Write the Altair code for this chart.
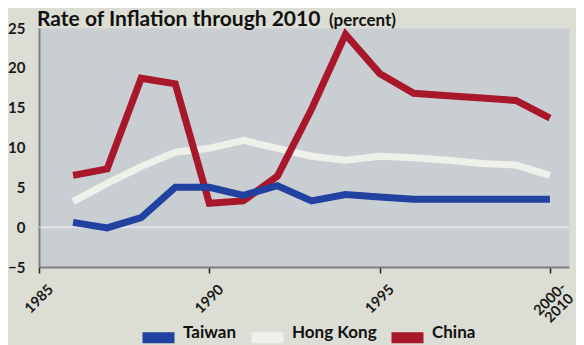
import altair as alt
import pandas as pd

years = list(range(1986, 2001))
taiwan = [0.6, -0.1, 1.2, 5.0, 5.0, 4.0, 5.2, 3.3, 4.1, 3.8, 3.5, 3.5, 3.5, 3.5, 3.5]
hong_kong = [3.2, 5.5, 7.6, 9.4, 9.9, 10.9, 9.9, 8.9, 8.4, 8.9, 8.7, 8.4, 8.0, 7.8, 6.5]
china = [6.5, 7.3, 18.7, 18.0, 3.0, 3.3, 6.4, 14.8, 24.2, 19.3, 16.8, 16.5, 16.2, 15.9, 13.7]
series = ["Taiwan", "Hong Kong", "China"]
colors = ["#2142a0", "#eef0ea", "#a8172a"]
x_ticks = [1985, 1990, 1995, 2000]
y_ticks = [-5, 0, 5, 10, 15, 20, 25]
title_main = "Rate of Inflation through 2010"
title_unit = "(percent)"

rows = []
for name, vals in zip(series, [taiwan, hong_kong, china]):
    for yr, v in zip(years, vals):
        rows.append({"year": yr, "rate": v, "country": name})
df = pd.DataFrame(rows)

FONT = "Lato"

x_enc = alt.X(
    "year:Q",
    scale=alt.Scale(domain=[1985, 2000.56], nice=False, zero=False),
    axis=alt.Axis(
        values=x_ticks, format="d",
        labelExpr="datum.value == 2000 ? ['2000-', '2010'] : datum.label",
        labelAngle=-45, labelAlign="center", labelBaseline="middle",
        labelPadding=26, labelFlush=False, labelOverlap=False,
        tickSize=6, tickColor="#222222", tickWidth=1.5,
        domainColor="#7d7f80", domainWidth=2, grid=False, title=None,
        labelFont=FONT, labelFontSize=14.5, labelFontWeight="bold",
        labelColor="#1a1a1a", labelLineHeight=13,
    ),
)
y_enc = alt.Y(
    "rate:Q",
    scale=alt.Scale(domain=[-5, 25], nice=False, zero=False),
    axis=alt.Axis(
        values=y_ticks, ticks=False, labelPadding=14, labelFlush=False, labelOverlap=False,
        grid=False, domainColor="#7d7f80", domainWidth=2, title=None,
        labelFont=FONT, labelFontSize=15, labelFontWeight="bold",
        labelColor="#1a1a1a",
    ),
)

legend = alt.Legend(
    orient="none", legendX=98, legendY=288, offset=0, direction="horizontal",
    symbolType="M-1,0H1", symbolSize=1024, symbolStrokeWidth=11, symbolOpacity=1,
    labelFont=FONT, labelFontSize=17, labelFontWeight="bold", labelColor="#111111",
    labelBaseline="alphabetic",
    columnPadding=-8, labelOffset=3, padding=0,
)
color_enc = alt.Color("country:N", scale=alt.Scale(domain=series, range=colors), legend=legend, title=None)

base = alt.Chart(df).mark_line(strokeWidth=7, strokeJoin="miter", strokeCap="butt")

zero = alt.Chart(pd.DataFrame({"rate": [0]})).mark_rule(color="white", opacity=0.45, strokeWidth=2).encode(y=y_enc)

layers = [zero]
for name in ["Hong Kong", "China", "Taiwan"]:
    layers.append(
        base.transform_filter(alt.datum.country == name).encode(x=x_enc, y=y_enc, color=color_enc)
    )

t1 = alt.Chart(pd.DataFrame({"t": [title_main]})).mark_text(
    align="left", baseline="alphabetic", font=FONT, fontSize=21, fontWeight="bold", color="#111111"
).encode(x=alt.value(-2), y=alt.value(-2), text="t:N")
t2 = alt.Chart(pd.DataFrame({"t": [title_unit]})).mark_text(
    align="left", baseline="alphabetic", font=FONT, fontSize=17, fontWeight="bold", color="#111111"
).encode(x=alt.value(290), y=alt.value(-2), text="t:N")

chart = alt.layer(*layers, t1, t2).properties(
    width=530, height=239,
    padding={"left": 31, "top": 20, "right": 7, "bottom": 78},
    autosize=alt.AutoSizeParams(type="none"),
    background="#dcddd4",
).configure_view(fill="#c9ced3", stroke="transparent")

chart.save("out.html", embed_options={"renderer": "svg", "actions": False})
